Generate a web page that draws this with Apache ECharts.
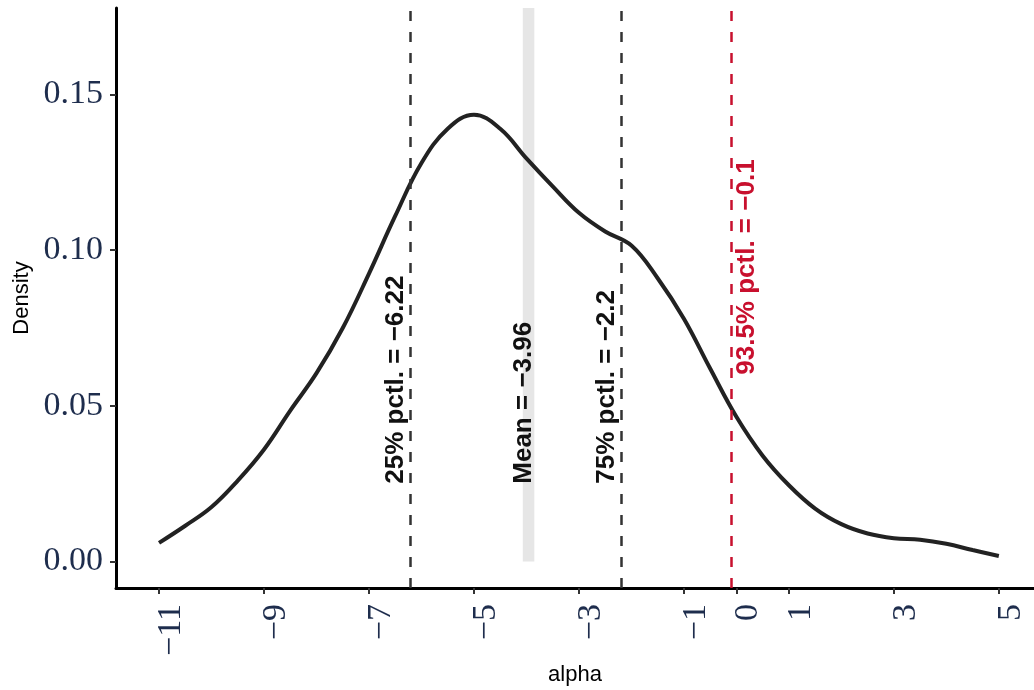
<!doctype html>
<html>
<head>
<meta charset="utf-8">
<script src="https://cdn.jsdelivr.net/npm/echarts@6/dist/echarts.min.js"></script>
<style>
    html, body { margin: 0; padding: 0; background: #fff; }
    #main { width: 1034px; height: 690px; }
</style>
</head>
<body>
<div id="main"></div>
<script>
// density curve
var alphaX = [-11, -10.5, -10, -9.5, -9, -8.5, -8, -7.5, -7, -6.5, -6, -5.5, -5, -4.5, -4, -3.5, -3,
              -2.5, -2, -1.5, -1, -0.5, 0, 0.5, 1, 1.5, 2, 2.5, 3, 3.5, 4, 4.5, 5];
var density = [0.006, 0.0115, 0.0175, 0.026, 0.036, 0.0485, 0.0605, 0.075, 0.0925, 0.111, 0.128, 0.139, 0.1435,
               0.139, 0.1295, 0.1205, 0.112, 0.106, 0.1015, 0.091, 0.078, 0.062, 0.0465, 0.034, 0.0245, 0.017,
               0.012, 0.009, 0.0075, 0.007, 0.0057, 0.0037, 0.0018];

// reference lines
var refX = [-6.22, -3.96, -2.2, -0.1];
var refText = ['25% pctl. = \u22126.22', 'Mean = \u22123.96', '75% pctl. = \u22122.2', '93.5% pctl. = \u22120.1'];
var refLabelY = [0.025, 0.025, 0.025, 0.06];
var meanBand = [-4.07, -3.85];

var xTicks = [-11, -9, -7, -5, -3, -1, 0, 1, 3, 5];
var yTicks = [0, 0.05, 0.10, 0.15];

var RED = '#c8102e';
var DARK = '#222222';
var NAVY = '#1e2d4d';

var chart = echarts.init(document.getElementById('main'));

function fmtMinus(v) {
    return String(v).replace('-', '\u2212');
}

var curve = alphaX.map(function (x, i) { return [x, density[i]]; });
var labelData = refX.map(function (x, i) { return [x, refLabelY[i], i]; });
var labelDx = [-14, -5, -14, 16];

var option = {
    animation: false,
    grid: { left: 116, right: 0, top: 8, bottom: 102, containLabel: false, outerBoundsMode: 'none' },
    xAxis: {
        type: 'value',
        min: -11.82,
        max: 5.67,
        name: 'alpha',
        nameLocation: 'middle',
        nameGap: 73,
        nameTextStyle: { fontFamily: 'Liberation Sans', fontSize: 22, color: '#000' },
        splitLine: { show: false },
        axisLine: { show: true, onZero: false, lineStyle: { color: '#000', width: 3 } },
        axisTick: { show: true, customValues: xTicks, length: 6, lineStyle: { color: '#333', width: 2 } },
        axisLabel: {
            customValues: xTicks,
            rotate: 90,
            margin: 16,
            verticalAlign: 'top',
            lineHeight: 24,
            fontFamily: 'Liberation Serif',
            fontSize: 34,
            color: NAVY,
            formatter: fmtMinus
        }
    },
    yAxis: {
        type: 'value',
        min: -0.0085,
        max: 0.1778,
        name: 'Density',
        nameLocation: 'middle',
        nameGap: 83,
        nameTextStyle: { fontFamily: 'Liberation Sans', fontSize: 22, color: '#000' },
        splitLine: { show: false },
        axisLine: { show: true, onZero: false, lineStyle: { color: '#000', width: 3 } },
        axisTick: { show: true, customValues: yTicks, length: 6, lineStyle: { color: '#333', width: 2 } },
        axisLabel: {
            customValues: yTicks,
            margin: 13,
            fontFamily: 'Liberation Serif',
            fontSize: 34,
            color: NAVY,
            formatter: function (v) { return v.toFixed(2); }
        }
    },
    series: [
        {
            type: 'line',
            data: curve,
            smooth: 0.4,
            symbol: 'none',
            lineStyle: { color: DARK, width: 4 },
            z: 3,
            markArea: {
                silent: true,
                itemStyle: { color: '#e6e6e6' },
                data: [[{ coord: [meanBand[0], 0] }, { coord: [meanBand[1], 0.1778] }]]
            },
            markLine: {
                silent: true,
                symbol: 'none',
                label: { show: false },
                data: [
                    { xAxis: refX[0], lineStyle: { color: '#333', width: 2.5, type: [10, 11] } },
                    { xAxis: refX[2], lineStyle: { color: '#333', width: 2.5, type: [10, 11] } },
                    { xAxis: refX[3], lineStyle: { color: RED, width: 2.5, type: [10, 11] } }
                ]
            }
        },
        {
            type: 'custom',
            data: labelData,
            silent: true,
            z: 4,
            renderItem: function (params, api) {
                var p = api.coord([api.value(0), api.value(1)]);
                var i = api.value(2);
                return {
                    type: 'text',
                    x: p[0] + labelDx[i],
                    y: p[1],
                    rotation: Math.PI / 2,
                    style: {
                        text: refText[i],
                        fill: i === 3 ? RED : '#111',
                        font: 'bold 26px "Liberation Sans"',
                        align: 'left',
                        verticalAlign: 'middle'
                    }
                };
            }
        }
    ]
};

chart.setOption(option);
</script>
</body>
</html>
